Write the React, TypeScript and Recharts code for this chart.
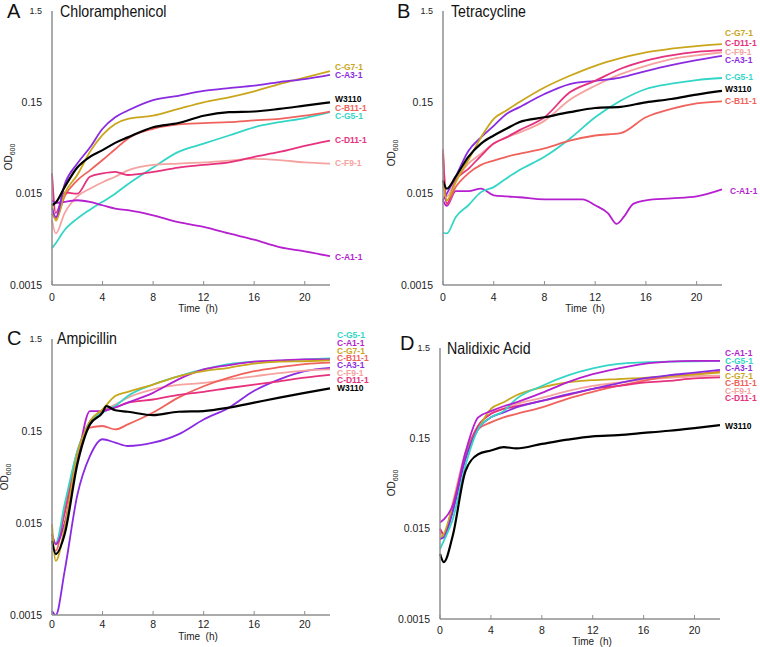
import { LineChart, Line, XAxis, YAxis } from 'recharts';

// sampling times (h) shared by most curves
const hours = [0, 0.3, 1, 2, 3, 4, 5, 6, 8, 10, 12, 14, 16, 18, 20, 22];
const timeTicks = [0, 4, 8, 12, 16, 20];
const odTicks = [0.0015, 0.015, 0.15, 1.5];

const colors: Record<string, string> = {
  'C-G5-1': '#33d6c6',
  'C-A1-1': '#b51fcf',
  'C-G7-1': '#c9a61c',
  'C-B11-1': '#f0625c',
  'C-A3-1': '#8a2be2',
  'C-F9-1': '#f5a3a0',
  'C-D11-1': '#e6317c',
  W3110: '#000000',
};

// A - Chloramphenicol
const chlG7 = [0.0117, 0.0076, 0.015, 0.024, 0.043, 0.066, 0.087, 0.099, 0.107, 0.127, 0.15, 0.17, 0.198, 0.238, 0.28, 0.33];
const chlA3 = [0.0105, 0.0083, 0.019, 0.032, 0.048, 0.077, 0.103, 0.122, 0.159, 0.177, 0.2, 0.215, 0.228, 0.25, 0.27, 0.3];
const chlB11 = [0.0091, 0.008, 0.014, 0.021, 0.027, 0.035, 0.046, 0.06, 0.077, 0.086, 0.089, 0.091, 0.095, 0.099, 0.107, 0.119];
const chlG5 = [0.0038, 0.0043, 0.006, 0.008, 0.01, 0.0122, 0.015, 0.019, 0.029, 0.043, 0.053, 0.065, 0.08, 0.091, 0.101, 0.117];
const chlD11 = [0.025, 0.0092, 0.0155, 0.015, 0.023, 0.025, 0.026, 0.024, 0.026, 0.029, 0.031, 0.033, 0.038, 0.043, 0.05, 0.057];
const chlF9 = [0.0077, 0.0055, 0.0092, 0.014, 0.017, 0.02, 0.023, 0.027, 0.031, 0.032, 0.033, 0.0345, 0.036, 0.035, 0.033, 0.032];
const chlA1 = [0.0127, 0.0119, 0.0122, 0.0127, 0.0122, 0.0112, 0.0103, 0.0099, 0.0087, 0.0073, 0.0065, 0.0055, 0.0047, 0.0039, 0.0035, 0.0031];
const chlW3110 = [0.0112, 0.012, 0.0177, 0.029, 0.038, 0.045, 0.054, 0.062, 0.08, 0.089, 0.107, 0.117, 0.119, 0.127, 0.138, 0.15];

// B - Tetracycline
const tetG7 = [0.0202, 0.0127, 0.02, 0.035, 0.062, 0.099, 0.122, 0.15, 0.218, 0.293, 0.377, 0.457, 0.53, 0.58, 0.62, 0.65];
const tetD11 = [0.041, 0.0116, 0.021, 0.028, 0.039, 0.053, 0.062, 0.074, 0.103, 0.193, 0.258, 0.35, 0.43, 0.49, 0.535, 0.56];
const tetF9 = [0.038, 0.014, 0.021, 0.032, 0.041, 0.053, 0.062, 0.07, 0.094, 0.16, 0.228, 0.305, 0.377, 0.446, 0.49, 0.53];
const tetA3 = [0.0127, 0.015, 0.023, 0.044, 0.062, 0.083, 0.112, 0.132, 0.185, 0.238, 0.258, 0.28, 0.33, 0.383, 0.435, 0.485];
const tetG5 = [0.0056, 0.0055, 0.0083, 0.0112, 0.0156, 0.0177, 0.022, 0.027, 0.038, 0.06, 0.103, 0.156, 0.21, 0.24, 0.263, 0.277];
const tetB11 = [0.046, 0.0116, 0.0177, 0.025, 0.031, 0.0345, 0.038, 0.041, 0.047, 0.057, 0.065, 0.069, 0.103, 0.127, 0.146, 0.154];
const tetW3110 = [0.021, 0.017, 0.023, 0.038, 0.053, 0.065, 0.077, 0.091, 0.103, 0.117, 0.13, 0.134, 0.15, 0.163, 0.182, 0.2];
const tetA1Hours = [0, 0.3, 1, 2, 3, 4, 5, 6, 8, 10, 11, 12, 13, 13.7, 14.3, 15, 16, 18, 20, 22];
const tetA1 = [0.0127, 0.011, 0.016, 0.016, 0.017, 0.0144, 0.014, 0.0137, 0.013, 0.013, 0.013, 0.0112, 0.0092, 0.007, 0.0085, 0.0116, 0.0127, 0.0133, 0.014, 0.0167];

// C - Ampicillin
const ampG5 = [0.0104, 0.009, 0.024, 0.09, 0.19, 0.238, 0.28, 0.36, 0.48, 0.59, 0.7, 0.8, 0.85, 0.87, 0.9, 0.925];
const ampA1 = [0.0113, 0.0088, 0.015, 0.07, 0.247, 0.247, 0.27, 0.305, 0.39, 0.546, 0.7, 0.78, 0.85, 0.88, 0.9, 0.9];
const ampG7 = [0.0146, 0.0058, 0.0134, 0.083, 0.19, 0.258, 0.36, 0.4, 0.48, 0.59, 0.67, 0.73, 0.81, 0.85, 0.86, 0.88];
const ampB11 = [0.0081, 0.0075, 0.021, 0.09, 0.163, 0.17, 0.156, 0.177, 0.238, 0.346, 0.46, 0.57, 0.67, 0.74, 0.8, 0.83];
const ampA3 = [0.00166, 0.0015, 0.0045, 0.03, 0.08, 0.122, 0.112, 0.103, 0.112, 0.138, 0.2, 0.269, 0.41, 0.546, 0.67, 0.73];
const ampF9 = [0.0104, 0.009, 0.021, 0.083, 0.177, 0.247, 0.29, 0.346, 0.425, 0.475, 0.5, 0.546, 0.59, 0.64, 0.68, 0.7];
const ampD11 = [0.0113, 0.009, 0.019, 0.083, 0.19, 0.247, 0.27, 0.305, 0.33, 0.37, 0.4, 0.44, 0.48, 0.52, 0.57, 0.61];
const ampW3110Hours = [0, 0.3, 1, 2, 3, 4, 4.3, 5, 6, 8, 10, 12, 14, 16, 18, 20, 22];
const ampW3110 = [0.0096, 0.0069, 0.0113, 0.065, 0.177, 0.238, 0.28, 0.252, 0.243, 0.223, 0.243, 0.247, 0.269, 0.305, 0.346, 0.39, 0.436];

// D - Nalidixic Acid
const nalA1 = [0.0176, 0.019, 0.027, 0.105, 0.256, 0.3, 0.34, 0.376, 0.477, 0.625, 0.77, 0.89, 1.0, 1.06, 1.08, 1.08];
const nalG5 = [0.0089, 0.011, 0.019, 0.075, 0.19, 0.256, 0.3, 0.41, 0.57, 0.74, 0.89, 1.0, 1.04, 1.06, 1.07, 1.08];
const nalA3 = [0.0115, 0.012, 0.023, 0.089, 0.19, 0.256, 0.29, 0.33, 0.39, 0.46, 0.53, 0.61, 0.69, 0.75, 0.8, 0.86];
const nalG7 = [0.0115, 0.013, 0.027, 0.096, 0.19, 0.317, 0.376, 0.45, 0.55, 0.625, 0.66, 0.68, 0.7, 0.73, 0.76, 0.8];
const nalB11 = [0.015, 0.013, 0.027, 0.089, 0.19, 0.225, 0.256, 0.28, 0.33, 0.41, 0.49, 0.57, 0.65, 0.73, 0.77, 0.82];
const nalF9 = [0.0137, 0.012, 0.029, 0.105, 0.207, 0.28, 0.32, 0.36, 0.42, 0.5, 0.57, 0.62, 0.67, 0.7, 0.73, 0.74];
const nalD11 = [0.015, 0.013, 0.025, 0.095, 0.207, 0.28, 0.317, 0.34, 0.39, 0.45, 0.53, 0.57, 0.62, 0.65, 0.69, 0.71];
const nalW3110 = [0.0079, 0.0064, 0.0125, 0.065, 0.1, 0.11, 0.12, 0.116, 0.13, 0.145, 0.158, 0.163, 0.172, 0.182, 0.195, 0.21];

type Series = { name: string; v: number[]; t?: number[] };

const panels = [
  {
    letter: 'A', title: 'Chloramphenicol',
    box: { left: 0, top: 0, w: 380, h: 320 },
    plot: { left: 52, right: 330, top: 11, bottom: 285 },
    series: [
      { name: 'C-G5-1', v: chlG5 }, { name: 'C-F9-1', v: chlF9 }, { name: 'C-B11-1', v: chlB11 },
      { name: 'C-D11-1', v: chlD11 }, { name: 'C-A1-1', v: chlA1 }, { name: 'C-G7-1', v: chlG7 },
      { name: 'C-A3-1', v: chlA3 }, { name: 'W3110', v: chlW3110 },
    ] as Series[],
    labels: [['C-G7-1', 67], ['C-A3-1', 75], ['W3110', 99], ['C-B11-1', 108], ['C-G5-1', 116], ['C-D11-1', 140], ['C-F9-1', 163], ['C-A1-1', 257]],
    labelX: 335,
    tickGap: 13,
    letterPos: [7, 11], titlePos: [60, 11], odPos: [10, 157], timePos: [198, 309],
  },
  {
    letter: 'B', title: 'Tetracycline',
    box: { left: 380, top: 0, w: 380, h: 320 },
    plot: { left: 443, right: 722, top: 11, bottom: 285 },
    series: [
      { name: 'C-A1-1', v: tetA1, t: tetA1Hours }, { name: 'C-G5-1', v: tetG5 }, { name: 'C-B11-1', v: tetB11 },
      { name: 'C-F9-1', v: tetF9 }, { name: 'C-A3-1', v: tetA3 }, { name: 'C-D11-1', v: tetD11 },
      { name: 'C-G7-1', v: tetG7 }, { name: 'W3110', v: tetW3110 },
    ] as Series[],
    labels: [['C-G7-1', 33], ['C-D11-1', 43], ['C-F9-1', 52], ['C-A3-1', 60], ['C-G5-1', 77], ['W3110', 89], ['C-B11-1', 101], ['C-A1-1', 191]],
    labelX: 725,
    tickGap: 13,
    letterPos: [397, 11], titlePos: [451, 11], odPos: [393, 153], timePos: [585, 309],
  },
  {
    letter: 'C', title: 'Ampicillin',
    box: { left: 0, top: 320, w: 380, h: 327 },
    plot: { left: 52, right: 330, top: 339, bottom: 615 },
    series: [
      { name: 'C-A3-1', v: ampA3 }, { name: 'C-F9-1', v: ampF9 }, { name: 'C-B11-1', v: ampB11 },
      { name: 'C-D11-1', v: ampD11 }, { name: 'C-G5-1', v: ampG5 }, { name: 'C-A1-1', v: ampA1 },
      { name: 'C-G7-1', v: ampG7 }, { name: 'W3110', v: ampW3110, t: ampW3110Hours },
    ] as Series[],
    labels: [['C-G5-1', 335], ['C-A1-1', 343], ['C-G7-1', 351], ['C-B11-1', 358], ['C-A3-1', 365], ['C-F9-1', 373], ['C-D11-1', 380], ['W3110', 388]],
    labelX: 337,
    tickGap: 10,
    letterPos: [7, 338], titlePos: [57, 338], odPos: [6, 477], timePos: [198, 637],
  },
  {
    letter: 'D', title: 'Nalidixic Acid',
    box: { left: 380, top: 320, w: 380, h: 327 },
    plot: { left: 440, right: 720, top: 348, bottom: 619 },
    series: [
      { name: 'C-F9-1', v: nalF9 }, { name: 'C-B11-1', v: nalB11 }, { name: 'C-D11-1', v: nalD11 },
      { name: 'C-G7-1', v: nalG7 }, { name: 'C-A3-1', v: nalA3 }, { name: 'C-G5-1', v: nalG5 },
      { name: 'C-A1-1', v: nalA1 }, { name: 'W3110', v: nalW3110 },
    ] as Series[],
    labels: [['C-A1-1', 353], ['C-G5-1', 361], ['C-A3-1', 368], ['C-G7-1', 376], ['C-B11-1', 383], ['C-F9-1', 391], ['C-D11-1', 398], ['W3110', 426]],
    labelX: 725,
    tickGap: 12,
    letterPos: [400, 343], titlePos: [447, 348], odPos: [393, 483], timePos: [592, 642],
  },
];

const axisColor = '#8f8f8f';
const font = 'Liberation Sans, Arial, Helvetica, sans-serif';

function OdTick(props: any) {
  const { x, y, payload } = props;
  return (
    <text x={x} y={y} dy="0.35em" textAnchor="end" fontSize={payload.value === 1.5 ? 9 : 10.5} fill="#222" fontFamily={font}>
      {String(payload.value)}
    </text>
  );
}

function Panel({ p }: { p: (typeof panels)[number] }) {
  const { box, plot } = p;
  const margin = {
    top: plot.top - box.top,
    right: box.left + box.w - plot.right,
    bottom: box.top + box.h - plot.bottom - 20,
    left: 0,
  };
  return (
    <>
      <div style={{ position: 'absolute', left: box.left, top: box.top }}>
        <LineChart width={box.w} height={box.h} margin={margin}>
          <XAxis
            type="number"
            dataKey="t"
            domain={[0, 22]}
            ticks={timeTicks}
            height={20}
            axisLine={{ stroke: axisColor, strokeWidth: 1.5 }}
            tickLine={{ stroke: axisColor }}
            tickSize={-4}
            tickMargin={p.tickGap}
            tick={{ fill: '#222', fontSize: 10.5, fontFamily: font }}
          />
          <YAxis
            type="number"
            scale="log"
            domain={[0.0015, 1.5]}
            allowDataOverflow
            ticks={odTicks}
            width={plot.left - box.left}
            axisLine={{ stroke: axisColor, strokeWidth: 1.5 }}
            tickLine={false}
            tickSize={0}
            tickMargin={10}
            tick={<OdTick />}
          />
          {p.series.map((s) => (
            <Line
              key={s.name}
              data={(s.t ?? hours).map((t, i) => ({ t, v: s.v[i] }))}
              dataKey="v"
              type="monotone"
              stroke={colors[s.name]}
              strokeWidth={s.name === 'W3110' ? 2.2 : 1.8}
              dot={false}
              isAnimationActive={false}
            />
          ))}
        </LineChart>
      </div>
      <div style={{ position: 'absolute', left: p.letterPos[0], top: p.letterPos[1], transform: 'translateY(-50%)', fontSize: 20, lineHeight: 1 }}>
        {p.letter}
      </div>
      <div style={{ position: 'absolute', left: p.titlePos[0], top: p.titlePos[1], transform: 'translateY(-50%) scaleX(0.86)', transformOrigin: 'left center', fontSize: 16.5, lineHeight: 1, whiteSpace: 'nowrap' }}>
        {p.title}
      </div>
      <div style={{ position: 'absolute', left: p.odPos[0], top: p.odPos[1], transform: 'translate(-50%,-50%) rotate(-90deg)', fontSize: 10, lineHeight: 1, whiteSpace: 'nowrap', color: '#222' }}>
        OD<sub style={{ fontSize: 7 }}>600</sub>
      </div>
      <div style={{ position: 'absolute', left: p.timePos[0], top: p.timePos[1], transform: 'translate(-50%,-50%)', fontSize: 10, lineHeight: '8px', whiteSpace: 'pre', color: '#222' }}>
        {'Time  (h)'}
      </div>
      {p.labels.map(([name, y]) => (
        <div
          key={name as string}
          style={{
            position: 'absolute', left: p.labelX + (p.letter === 'B' && name === 'C-A1-1' ? 5 : 0), top: y as number,
            transform: 'translateY(-50%)', fontSize: 8.5, fontWeight: 'bold', lineHeight: '7px',
            color: colors[name as string], whiteSpace: 'nowrap',
          }}
        >
          {name}
        </div>
      ))}
    </>
  );
}

export default function App() {
  return (
    <div style={{ position: 'absolute', left: 0, top: 0, width: 760, height: 647, background: '#fff', fontFamily: font, color: '#111' }}>
      {panels.map((p) => (
        <Panel key={p.letter} p={p} />
      ))}
    </div>
  );
}
